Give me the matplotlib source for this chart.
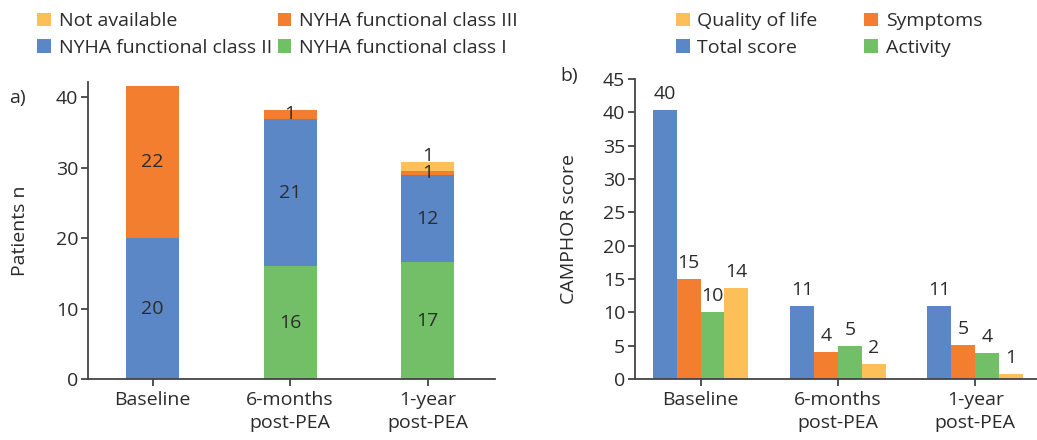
import numpy as np
import matplotlib.pyplot as plt

plt.rcParams['font.family'] = ['Open Sans', 'DejaVu Sans']

# categories shared by both panels
timepoints = ["Baseline", "6-months\npost-PEA", "1-year\npost-PEA"]

# panel a: NYHA functional class (stacked), heights
class_1 = [0, 16.0, 16.6]
class_2 = [20.0, 21.0, 12.4]
class_3 = [21.6, 1.2, 0.6]
not_avail = [0, 0, 1.2]
class_1_lbl = ["", "16", "17"]
class_2_lbl = ["20", "21", "12"]
class_3_lbl = ["22", "1", "1"]
not_avail_lbl = ["", "", "1"]

# panel b: CAMPHOR scores (grouped)
total_score = [40.3, 10.9, 10.9]
symptoms = [15.0, 4.0, 5.1]
activity = [10.1, 5.0, 3.9]
quality_of_life = [13.7, 2.2, 0.8]
total_lbl = ["40", "11", "11"]
symptoms_lbl = ["15", "4", "5"]
activity_lbl = ["10", "5", "4"]
qol_lbl = ["14", "2", "1"]

BLUE = "#5b87c6"
ORANGE = "#f47e30"
GREEN = "#72bf67"
YELLOW = "#fdbf58"
TXT = "#2b2b2b"
FS = 14

fig = plt.figure(figsize=(10.37, 4.4), dpi=100)
ax1 = fig.add_axes([0.0849, 0.1386, 0.3925, 0.675])
ax2 = fig.add_axes([0.6123, 0.1386, 0.3877, 0.682])

x = np.arange(len(timepoints))


def style_axis(ax):
    for s in ["top", "right"]:
        ax.spines[s].set_visible(False)
    for s in ["left", "bottom"]:
        ax.spines[s].set_color("#444444")
        ax.spines[s].set_linewidth(1.3)
    ax.tick_params(axis="both", colors="#444444", labelcolor=TXT,
                   labelsize=FS, length=5, width=1.3, direction="out")
    ax.tick_params(axis="y", pad=2)
    ax.set_xticks(x)
    ax.set_xticklabels(timepoints, linespacing=1.35)


# ---- panel a ----
w = 0.385
bottom = np.zeros(3)
segments = [
    (class_2, class_2_lbl, BLUE, "NYHA functional class II"),
    (class_1, class_1_lbl, GREEN, "NYHA functional class I"),
    (class_3, class_3_lbl, ORANGE, "NYHA functional class III"),
    (not_avail, not_avail_lbl, YELLOW, "Not available"),
]
# stacking order from bottom: class I, class II, class III, not available
stack_order = [1, 0, 2, 3]
handles = {}
for i in stack_order:
    vals, lbls, col, name = segments[i]
    bars = ax1.bar(x, vals, w, bottom=bottom, color=col, label=name)
    if name == "Not available":
        ax1.bar_label(bars, labels=lbls, label_type="edge", padding=-2,
                      fontsize=FS, color=TXT)
    else:
        ax1.bar_label(bars, labels=lbls, label_type="center",
                      fontsize=FS, color=TXT)
    handles[name] = bars
    bottom = bottom + np.array(vals)

style_axis(ax1)
ax1.set_xlim(-0.47, 2.49)
ax1.set_ylim(0, 42.2)
ax1.set_yticks([0, 10, 20, 30, 40])
ax1.set_ylabel("Patients n", fontsize=FS, color=TXT, labelpad=19)

leg_order = ["Not available", "NYHA functional class II",
             "NYHA functional class III", "NYHA functional class I"]
fig.legend([handles[n] for n in leg_order], leg_order, ncol=2,
           loc="upper left", bbox_to_anchor=(0.019, 1.012), frameon=False,
           fontsize=FS, handlelength=0.7, handleheight=0.7,
           handletextpad=0.4, columnspacing=0.3, labelspacing=0.45,
           labelcolor=TXT)

fig.text(0.009, 0.765, "a)", fontsize=FS, color=TXT)

# ---- panel b ----
bw = 0.174
groups = [
    (total_score, total_lbl, BLUE, "Total score"),
    (symptoms, symptoms_lbl, ORANGE, "Symptoms"),
    (activity, activity_lbl, GREEN, "Activity"),
    (quality_of_life, qol_lbl, YELLOW, "Quality of life"),
]
handles2 = {}
for k, (vals, lbls, col, name) in enumerate(groups):
    bars = ax2.bar(x + (k - 1.5) * bw, vals, bw, color=col, label=name)
    ax2.bar_label(bars, labels=lbls, padding=5, fontsize=FS, color=TXT)
    handles2[name] = bars

style_axis(ax2)
ax2.set_xlim(-0.478, 2.45)
ax2.set_ylim(0, 45)
ax2.set_yticks(range(0, 46, 5))
ax2.set_ylabel("CAMPHOR score", fontsize=FS, color=TXT, labelpad=18)

leg2_order = ["Quality of life", "Total score", "Symptoms", "Activity"]
fig.legend([handles2[n] for n in leg2_order], leg2_order, ncol=2,
           loc="upper left", bbox_to_anchor=(0.635, 1.012), frameon=False,
           fontsize=FS, handlelength=0.7, handleheight=0.7,
           handletextpad=0.4, columnspacing=2.4, labelspacing=0.45,
           labelcolor=TXT)

fig.text(0.54, 0.815, "b)", fontsize=FS, color=TXT)

fig.savefig("out.png", dpi=100)
